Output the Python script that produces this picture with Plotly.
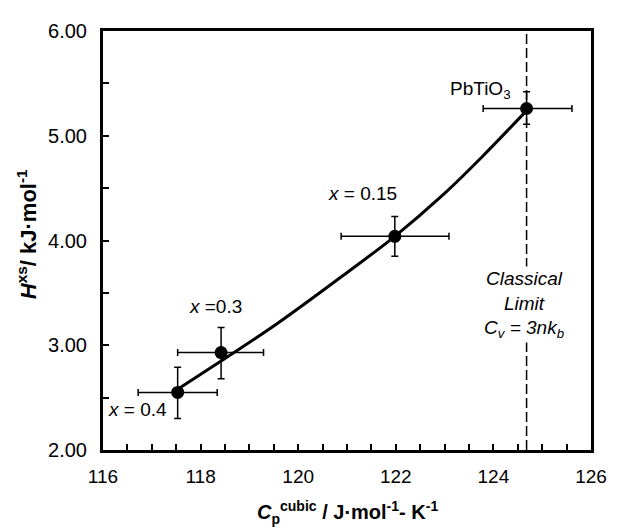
import plotly.graph_objects as go

# Data points
cp = [117.53, 118.42, 121.98, 124.68]
hxs = [2.55, 2.93, 4.04, 5.26]
cp_err_minus = [0.81, 0.89, 1.10, 0.89]
cp_err_plus = [0.81, 0.87, 1.11, 0.93]
hxs_err_plus = [0.24, 0.24, 0.19, 0.16]
hxs_err_minus = [0.25, 0.25, 0.19, 0.15]

# Fitted curve
curve_x = [117.53, 118.42, 119.55, 120.99, 121.98, 123.0, 123.77, 124.68]
curve_y = [2.58, 2.85, 3.20, 3.69, 4.04, 4.45, 4.80, 5.24]

classical_limit = 124.68

xticks = [116, 118, 120, 122, 124, 126]
yticks = [2, 3, 4, 5, 6]
ytick_labels = ["2.00", "3.00", "4.00", "5.00", "6.00"]

FONT = "Arial, Liberation Sans, sans-serif"

fig = go.Figure()

# dashed classical limit line
fig.add_trace(go.Scatter(
    x=[classical_limit, classical_limit], y=[2, 6], mode="lines",
    line=dict(color="black", width=1.5, dash="10px,4px"),
    hoverinfo="skip", showlegend=False))

# fitted curve
fig.add_trace(go.Scatter(
    x=curve_x, y=curve_y, mode="lines",
    line=dict(color="black", width=3, shape="spline", smoothing=1.0),
    showlegend=False))

# points with error bars
fig.add_trace(go.Scatter(
    x=cp, y=hxs, mode="markers",
    marker=dict(color="black", size=13),
    error_x=dict(type="data", symmetric=False, array=cp_err_plus,
                 arrayminus=cp_err_minus, color="black", thickness=1.5, width=3.5),
    error_y=dict(type="data", symmetric=False, array=hxs_err_plus,
                 arrayminus=hxs_err_minus, color="black", thickness=1.5, width=3.5),
    showlegend=False))

annotations = [
    dict(x=123.73, y=5.44, text="PbTiO<sub>3</sub>"),
    dict(x=121.32, y=4.45, text="<i>x</i> = 0.15"),
    dict(x=118.31, y=3.37, text="<i>x</i> =0.3"),
    dict(x=116.70, y=2.39, text="<i>x</i> = 0.4"),
    dict(x=124.63, y=3.39, text="<i>Classical<br>Limit<br>C<sub>v</sub> = 3nk<sub>b</sub></i>",
         bgcolor="white"),
]
for a in annotations:
    fig.add_annotation(xref="x", yref="y", showarrow=False,
                       font=dict(family=FONT, size=19, color="black"), **a)

# axis titles
fig.add_annotation(xref="paper", yref="paper", x=0.5, y=-0.148, showarrow=False,
                   xanchor="center", yanchor="middle",
                   text="<b><i>C</i><sub>p</sub><sup>cubic</sup> / J·mol<sup>-1</sup>- K<sup>-1</sup></b>",
                   font=dict(family=FONT, size=20, color="black"))
fig.add_annotation(xref="paper", yref="paper", x=-0.157, y=0.516, showarrow=False,
                   xanchor="center", yanchor="middle", textangle=-90,
                   text="<b><i>H</i><sup>xs</sup>/ kJ·mol<sup>-1</sup></b>",
                   font=dict(family=FONT, size=22, color="black"))

fig.update_xaxes(range=[116, 126], tickvals=xticks, ticktext=[str(t) for t in xticks],
                 ticks="inside", ticklen=6, tickwidth=2, tickcolor="black",
                 minor=dict(dtick=0.5, ticks="inside", ticklen=6, tickwidth=2, tickcolor="black"),
                 showline=True, linewidth=3, linecolor="black", mirror=True,
                 showgrid=False, zeroline=False, ticklabelstandoff=7,
                 tickfont=dict(family=FONT, size=19, color="black"))
fig.update_yaxes(range=[2, 6], tickvals=yticks, ticktext=ytick_labels,
                 ticks="inside", ticklen=6, tickwidth=2, tickcolor="black",
                 minor=dict(dtick=0.5, ticks="inside", ticklen=6, tickwidth=2, tickcolor="black"),
                 showline=True, linewidth=3, linecolor="black", mirror=True,
                 showgrid=False, zeroline=False, ticklabelstandoff=9,
                 tickfont=dict(family=FONT, size=20, color="black"))

# the page adds an 8px body margin, so the figure is 8px smaller and shifted
fig.update_layout(width=611, height=520,
                  margin=dict(l=95, r=18, t=16, b=78),
                  plot_bgcolor="white", paper_bgcolor="white",
                  showlegend=False)

fig.write_html("out.html")
